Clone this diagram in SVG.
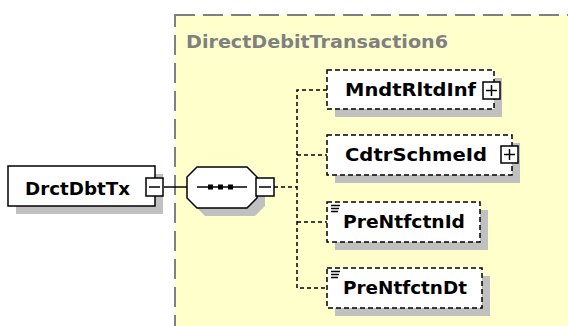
<svg xmlns="http://www.w3.org/2000/svg" width="568" height="326" viewBox="0 0 568 326">
<style>
.shadow{fill:#C0C0C0;stroke:none}
.box{fill:#FFFFFF;stroke:#000000;stroke-width:1.5}
.opt{fill:#FFFFFF;stroke:#000000;stroke-width:1.5;stroke-dasharray:5 3}
.lbl{font-family:"DejaVu Sans","Liberation Sans",sans-serif;font-weight:bold;font-size:17px;fill:#000000}
.type{font-family:"DejaVu Sans","Liberation Sans",sans-serif;font-weight:bold;font-size:17px;fill:#808080}
.btn{fill:#FFFFFF;stroke:#000000;stroke-width:1.5}
.sign{stroke:#000000;stroke-width:1.5;fill:none}
.conn{stroke:#000000;stroke-width:1.5;fill:none}
.dconn{stroke:#000000;stroke-width:1.5;fill:none;stroke-dasharray:4 3}
</style>
<rect x="0" y="0" width="568" height="326" fill="#FFFFFF"/>
<g id="type-DirectDebitTransaction6">
<rect x="175" y="15" width="400" height="320" fill="#FFFFCC" stroke="#808080" stroke-width="2" stroke-dasharray="20 8"/>
<text class="type" x="186" y="48" textLength="262" lengthAdjust="spacingAndGlyphs">DirectDebitTransaction6</text>
</g>
<g id="connectors">
<line class="conn" x1="164" y1="187" x2="187" y2="187"/>
<line class="dconn" x1="274" y1="187" x2="297" y2="187"/>
<polyline class="dconn" points="327,90 297,90 297,288 327,288"/>
<line class="dconn" x1="297" y1="155" x2="327" y2="155"/>
<line class="dconn" x1="297" y1="222" x2="327" y2="222"/>
</g>
<g id="node-DrctDbtTx">
<rect class="shadow" x="16" y="174" width="147" height="40"/>
<rect class="box" x="8" y="166" width="147" height="40"/>
<text class="lbl" x="25" y="195" textLength="105" lengthAdjust="spacingAndGlyphs">DrctDbtTx</text>
<rect class="btn" x="146" y="178" width="17" height="18"/>
<line class="sign" x1="149" y1="187" x2="160" y2="187"/>
</g>
<g id="node-sequence">
<polygon class="shadow" points="205,175 255,175 265,185 265,206 255,216 205,216 195,206 195,185"/>
<polygon class="box" points="197,167 247,167 257,177 257,198 247,208 197,208 187,198 187,177"/>
<line class="sign" x1="197" y1="187" x2="247" y2="187"/>
<rect x="208" y="184.5" width="5" height="5" fill="#000000"/>
<rect x="218" y="184.5" width="5" height="5" fill="#000000"/>
<rect x="228" y="184.5" width="5" height="5" fill="#000000"/>
<rect class="btn" x="256" y="178" width="18" height="18"/>
<line class="sign" x1="259" y1="187" x2="271" y2="187"/>
</g>
<g id="node-MndtRltdInf">
<rect class="shadow" x="335" y="78" width="167" height="39"/>
<rect class="opt" x="327" y="70" width="167" height="39"/>
<text class="lbl" x="345" y="96" textLength="131" lengthAdjust="spacingAndGlyphs">MndtRltdInf</text>
<rect class="btn" x="483" y="82" width="17" height="17"/>
<line class="sign" x1="486" y1="90.5" x2="497" y2="90.5"/>
<line class="sign" x1="491.5" y1="85" x2="491.5" y2="96"/>
</g>
<g id="node-CdtrSchmeId">
<rect class="shadow" x="335" y="143" width="185" height="40"/>
<rect class="opt" x="327" y="135" width="185" height="40"/>
<text class="lbl" x="345" y="161" textLength="142" lengthAdjust="spacingAndGlyphs">CdtrSchmeId</text>
<rect class="btn" x="501" y="146" width="17" height="17"/>
<line class="sign" x1="504" y1="154.5" x2="515" y2="154.5"/>
<line class="sign" x1="509.5" y1="149" x2="509.5" y2="160"/>
</g>
<g id="node-PreNtfctnId">
<rect class="shadow" x="335" y="210" width="153" height="40"/>
<rect class="opt" x="327" y="202" width="153" height="40"/>
<line class="sign" x1="331" y1="205.5" x2="340" y2="205.5"/>
<line class="sign" x1="331" y1="208.5" x2="339" y2="208.5"/>
<line class="sign" x1="331" y1="211.5" x2="338" y2="211.5"/>
<text class="lbl" x="343" y="228" textLength="122" lengthAdjust="spacingAndGlyphs">PreNtfctnId</text>
</g>
<g id="node-PreNtfctnDt">
<rect class="shadow" x="335" y="276" width="155" height="40"/>
<rect class="opt" x="327" y="268" width="155" height="40"/>
<line class="sign" x1="331" y1="271.5" x2="340" y2="271.5"/>
<line class="sign" x1="331" y1="274.5" x2="339" y2="274.5"/>
<line class="sign" x1="331" y1="277.5" x2="338" y2="277.5"/>
<text class="lbl" x="343" y="294" textLength="124" lengthAdjust="spacingAndGlyphs">PreNtfctnDt</text>
</g>
</svg>
